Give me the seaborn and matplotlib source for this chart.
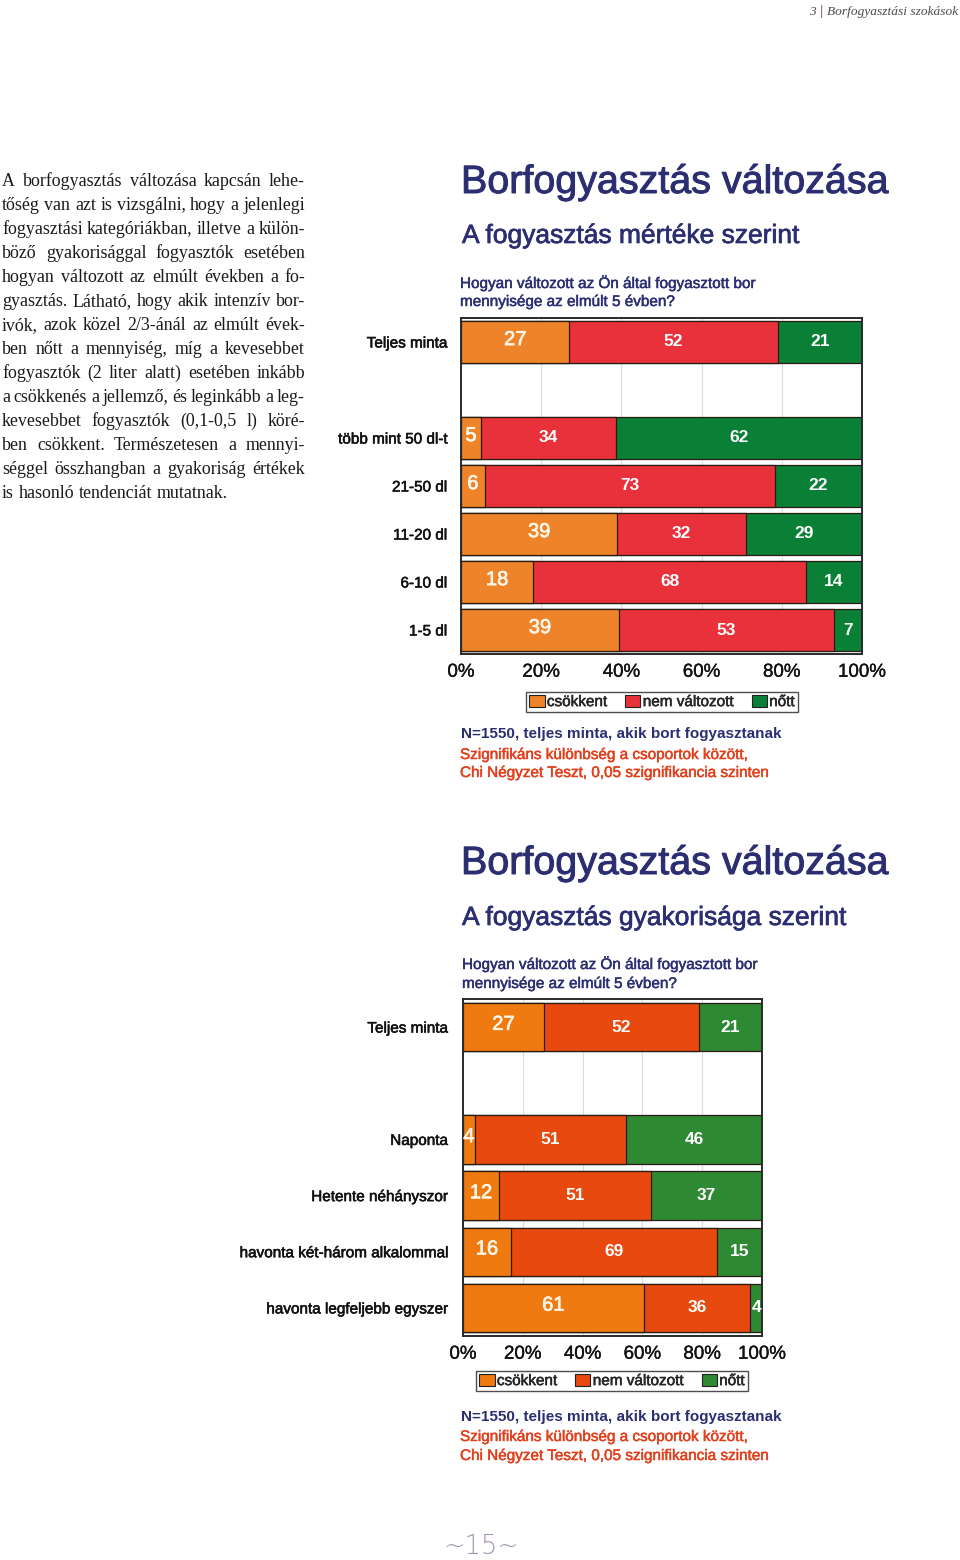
import matplotlib
matplotlib.use("Agg")
import matplotlib.pyplot as plt
import matplotlib.patches as mpatches
import matplotlib.patheffects as pe
import seaborn as sns
import pandas as pd
import numpy as np

# ---------------- data ----------------
series_names = ["csökkent", "nem változott", "nőtt"]

cats1 = ["Teljes minta", "", "több mint 50 dl-t", "21-50 dl", "11-20 dl", "6-10 dl", "1-5 dl"]
decr1 = [27, None, 5, 6, 39, 18, 39]
same1 = [52, None, 34, 73, 32, 68, 53]
incr1 = [21, None, 62, 22, 29, 14, 7]

cats2 = ["Teljes minta", "", "Naponta", "Hetente néhányszor",
         "havonta két-három alkalommal", "havonta legfeljebb egyszer"]
decr2 = [27, None, 4, 12, 16, 61]
same2 = [52, None, 51, 51, 69, 36]
incr2 = [21, None, 46, 37, 15, 4]

xticks = [0, 20, 40, 60, 80, 100]
xtick_labels = ["0%", "20%", "40%", "60%", "80%", "100%"]

colors1 = ["#EE8329", "#E8313A", "#0A8036"]
colors2 = ["#EF7A10", "#E8490F", "#2E8A32"]

NAVY = "#2B2F72"
REDTXT = "#E2401C"

body_lines = [
    "A borfogyasztás változása kapcsán lehe-",
    "tőség van azt is vizsgálni, hogy a jelenlegi",
    "fogyasztási kategóriákban, illetve a külön-",
    "böző gyakorisággal fogyasztók esetében",
    "hogyan változott az elmúlt években a fo-",
    "gyasztás. Látható, hogy akik intenzív bor-",
    "ivók, azok közel 2/3-ánál az elmúlt évek-",
    "ben nőtt a mennyiség, míg a kevesebbet",
    "fogyasztók (2 liter alatt) esetében inkább",
    "a csökkenés a jellemző, és leginkább a leg-",
    "kevesebbet fogyasztók (0,1-0,5 l) köré-",
    "ben csökkent. Természetesen a mennyi-",
    "séggel összhangban a gyakoriság értékek",
    "is hasonló tendenciát mutatnak.",
]

# ---------------- setup ----------------
sns.set_style("white")
plt.rcParams["font.family"] = ["Liberation Sans", "DejaVu Sans"]

W, H = 960, 1560
fig = plt.figure(figsize=(W / 100, H / 100), dpi=100)
fig.patch.set_facecolor("white")


def X(px):
    return px / W


def Y(py):
    return 1 - py / H


def thicken(t, lw=0.6, color=None):
    c = color if color is not None else t.get_color()
    t.set_path_effects([pe.withStroke(linewidth=lw, foreground=c)])
    return t


def stacked_chart(ax, cats, d, s, i, colors, label_fs_big=14.5, label_fs=12.5):
    rows = []
    for c, a, b, g in zip(cats, d, s, i):
        if a is None:
            continue
        tot = a + b + g
        wa, wb, wg = a / tot * 100, b / tot * 100, g / tot * 100
        rows.append(dict(cat=c, v1=a, v2=b, v3=g,
                         c1=wa, c2=wa + wb, c3=wa + wb + wg))
    df = pd.DataFrame(rows)
    order = list(cats)
    for col, colr in zip(["c3", "c2", "c1"], colors[::-1]):
        sns.barplot(data=df, x=col, y="cat", order=order, orient="h",
                    color=colr, saturation=1, errorbar=None, width=0.86,
                    edgecolor="#2a1a14", linewidth=0.9, ax=ax, zorder=2)
    # value labels
    for _, r in df.iterrows():
        yi = order.index(r["cat"])
        starts = [0, r["c1"], r["c2"]]
        ends = [r["c1"], r["c2"], r["c3"]]
        vals = [r["v1"], r["v2"], r["v3"]]
        for k in range(3):
            xc = (starts[k] + ends[k]) / 2
            if k == 0:
                t = ax.text(xc, yi - 0.05, f"{int(vals[k])}", ha="center", va="center",
                            color="#FFF6E8", fontsize=label_fs_big, zorder=5)
                thicken(t, 0.5)
            else:
                ax.text(xc, yi, f"{int(vals[k])}", ha="center", va="center",
                        color="white", fontsize=label_fs, fontweight="bold", zorder=5)
    ax.set_xlim(0, 100)
    ax.set_xticks(xticks)
    ax.set_xticklabels(xtick_labels, fontsize=13.5, color="#111111")
    ax.set_xlabel("")
    ax.set_ylabel("")
    ax.grid(axis="x", color="#DCDCDC", linewidth=0.8, zorder=0)
    ax.grid(axis="y", visible=False)
    ax.set_axisbelow(True)
    ax.tick_params(axis="both", length=0)
    ax.tick_params(axis="x", pad=7)
    ax.tick_params(axis="y", pad=10, labelsize=11, labelcolor="#111111")
    for t in ax.get_yticklabels():
        thicken(t, 0.4)
    for t in ax.get_xticklabels():
        thicken(t, 0.25)
    for sp in ax.spines.values():
        sp.set_visible(True)
        sp.set_color("#2a2a2a")
        sp.set_linewidth(1.4)


# ---------------- chart 1 ----------------
ax1 = fig.add_axes([X(461), Y(654), X(862) - X(461), (654 - 318) / H])
stacked_chart(ax1, cats1, decr1, same1, incr1, colors1)

# ---------------- chart 2 ----------------
ax2 = fig.add_axes([X(463), Y(1336), X(762) - X(463), (1336 - 999) / H])
stacked_chart(ax2, cats2, decr2, same2, incr2, colors2)
ax2.tick_params(axis="y", pad=11)


def add_legend(colors, cx, cy):
    handles = [mpatches.Patch(facecolor=c, edgecolor="#222222", linewidth=0.8, label=n)
               for c, n in zip(colors, series_names)]
    leg = fig.legend(handles=handles, loc="center", bbox_to_anchor=(X(cx), Y(cy)),
                     ncol=3, fontsize=11, frameon=True, fancybox=False,
                     handlelength=1.0, handleheight=0.8, handletextpad=0.15,
                     columnspacing=1.2, borderpad=0.2, borderaxespad=0)
    leg.get_frame().set_edgecolor("#222222")
    leg.get_frame().set_linewidth(1.0)
    for t in leg.get_texts():
        thicken(t, 0.4)
    return leg


add_legend(colors1, 662, 702)
add_legend(colors2, 612, 1381)

# ---------------- titles / notes ----------------
def block(y_title, y_sub, subtitle, y_q1, y_q2, x_q, y_n, x0):
    thicken(fig.text(X(x0), Y(y_title), "Borfogyasztás változása", fontsize=28.4,
                     color=NAVY, ha="left", va="baseline"), 0.7)
    thicken(fig.text(X(x0 + 1), Y(y_sub), subtitle, fontsize=19, color=NAVY,
                     ha="left", va="baseline"), 0.5)
    thicken(fig.text(X(x_q), Y(y_q1), "Hogyan változott az Ön által fogyasztott bor",
                     fontsize=11, color=NAVY, ha="left", va="baseline"), 0.35)
    thicken(fig.text(X(x_q), Y(y_q2), "mennyisége az elmúlt 5 évben?",
                     fontsize=11, color=NAVY, ha="left", va="baseline"), 0.35)
    fig.text(X(x0), Y(y_n[0]), "N=1550, teljes minta, akik bort fogyasztanak",
             fontsize=11, fontweight="bold", color=NAVY, ha="left", va="baseline")
    thicken(fig.text(X(x0 - 1), Y(y_n[1]), "Szignifikáns különbség a csoportok között,",
                     fontsize=11, color=REDTXT, ha="left", va="baseline"), 0.35)
    thicken(fig.text(X(x0 - 1), Y(y_n[2]), "Chi Négyzet Teszt, 0,05 szignifikancia szinten",
                     fontsize=11, color=REDTXT, ha="left", va="baseline"), 0.35)


block(193, 243, "A fogyasztás mértéke szerint", 288, 306, 460, (738, 759, 777), 461)
block(874, 925, "A fogyasztás gyakorisága szerint", 969, 988, 462, (1421, 1441, 1460), 461)

# ---------------- body text (justified) ----------------
renderer = fig.canvas.get_renderer()
left_px, right_px = 2, 305
for li, line in enumerate(body_lines):
    yb = Y(186 + 24 * li)
    words = line.split(" ")
    texts = [fig.text(0, yb, w, fontsize=12.9, family=["Liberation Serif", "DejaVu Serif"],
                      color="#1a1a1a", ha="left", va="baseline") for w in words]
    widths = [t.get_window_extent(renderer).width for t in texts]
    if li == len(body_lines) - 1 or len(words) == 1:
        space = texts[0].get_fontsize() * 0.25 * 100 / 72
    else:
        space = max(2.0, (right_px - left_px - sum(widths)) / (len(words) - 1))
    xpos = left_px
    for t, w in zip(texts, widths):
        t.set_x(X(xpos))
        xpos += w + space

# ---------------- header & footer ----------------
hdr = fig.text(X(958), Y(15), "Borfogyasztási szokások", fontsize=9.6, style="italic",
               family=["Liberation Serif", "DejaVu Serif"], color="#4a4a4a",
               ha="right", va="baseline")
hw = hdr.get_window_extent(renderer).width
bar = fig.text(X(958 - hw - 4), Y(15), "|", fontsize=10.5,
               family=["Liberation Serif", "DejaVu Serif"], color="#8E5C7E",
               ha="right", va="baseline", fontweight="bold")
bw = bar.get_window_extent(renderer).width
fig.text(X(958 - hw - 4 - bw - 4), Y(15), "3", fontsize=9.6, style="italic",
         family=["Liberation Serif", "DejaVu Serif"], color="#4a4a4a",
         ha="right", va="baseline")

fig.text(X(481), Y(1546), "~15~", fontsize=18.5, color="#A493AD",
         family=["DejaVu Sans"], fontweight="light",
         ha="center", va="center")

fig.savefig("out.png", dpi=100, facecolor="white")
